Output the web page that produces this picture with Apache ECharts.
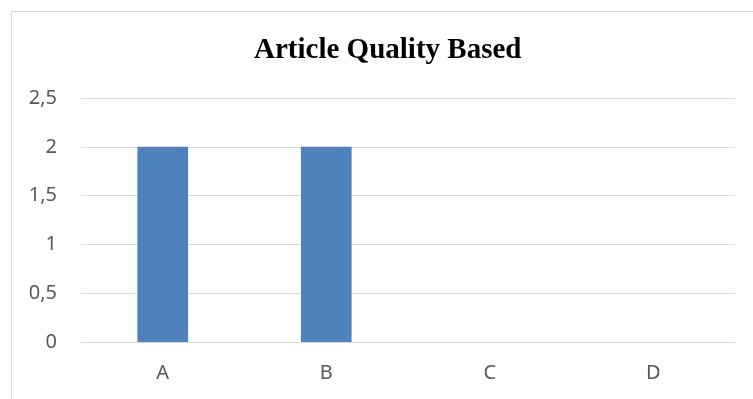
<!DOCTYPE html>
<html>
<head>
<meta charset="utf-8">
<script src="https://cdn.jsdelivr.net/npm/echarts@6/dist/echarts.min.js"></script>
<style>
  html, body { margin: 0; padding: 0; background: #fff; }
  #chart { width: 753px; height: 399px; }
</style>
</head>
<body>
<div id="chart"></div>
<script>
// Article quality counts per grade
const categories = ['A', 'B', 'C', 'D'];
const counts = [2, 2, 0, 0];
const yTicks = { min: 0, max: 2.5, interval: 0.5 };

const chart = echarts.init(document.getElementById('chart'));
chart.setOption({
  animation: false,
  backgroundColor: '#ffffff',
  graphic: [{
    type: 'rect',
    shape: { x: 11.5, y: 11.5, width: 800, height: 500 },
    style: { fill: 'none', stroke: '#d9d9d9', lineWidth: 1 },
    silent: true
  }],
  title: {
    text: 'Article Quality Based',
    left: 249,
    top: 31,
    textStyle: {
      fontFamily: '"Liberation Serif", "Times New Roman", serif',
      fontWeight: 'bold',
      fontSize: 29,
      color: '#000'
    }
  },
  grid: { left: 81, right: 18, top: 98, bottom: 57 },
  xAxis: {
    type: 'category',
    data: categories,
    axisTick: { show: false },
    axisLine: { lineStyle: { color: '#d9d9d9', width: 1 } },
    axisLabel: {
      color: '#595959',
      fontFamily: '"Noto Sans", sans-serif',
      fontSize: 20,
      margin: 21
    }
  },
  yAxis: {
    type: 'value',
    min: yTicks.min,
    max: yTicks.max,
    interval: yTicks.interval,
    axisLine: { show: false },
    axisTick: { show: false },
    splitLine: { lineStyle: { color: '#d9d9d9', width: 1 } },
    axisLabel: {
      color: '#595959',
      fontFamily: '"Noto Sans", sans-serif',
      fontSize: 20,
      margin: 24,
      formatter: v => String(v).replace('.', ',')
    }
  },
  series: [{
    type: 'bar',
    data: counts,
    barWidth: '31%',
    itemStyle: { color: '#4f81bd' }
  }]
});
</script>
</body>
</html>
